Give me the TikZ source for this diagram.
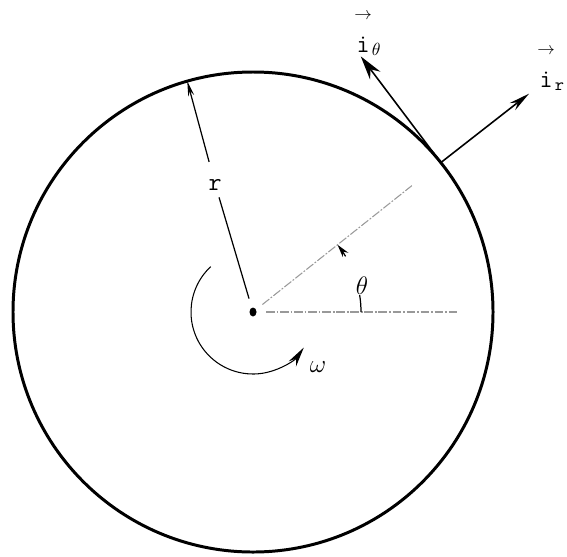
\documentclass[tikz,border=0pt]{standalone}
\usepackage{amsmath}
\usetikzlibrary{arrows.meta,calc,positioning}
\newcommand{\unitvec}[1]{{\overset{\raisebox{1.1ex}{$\scriptstyle\rightarrow$}}{\mathtt{i}}}_{#1}}

\begin{document}
\begin{tikzpicture}[
    x=0.02cm, y=0.02cm,
    rim/.style={line width=1.7pt},
    radial/.style={line width=0.7pt},
    refline/.style={gray!80, line width=0.6pt, dash pattern=on 5pt off 1pt on 1pt off 1pt},
    vecarrow/.style={line width=0.9pt, -{Stealth[length=0.42cm,width=0.18cm]}},
    lbl/.style={inner sep=0pt, font=\Large}
  ]
  \useasboundingbox (0,0) rectangle (567,556);
  \coordinate (ctr) at (253,244);

  % wheel
  \draw[rim] (ctr) circle[radius=240];
  \fill (ctr) ellipse[x radius=3.5, y radius=4.5];

  % radius
  \coordinate (rtip) at ($(ctr)+(105.9:240)$);
  \node[lbl, inner sep=0.14cm] (rlab) at ($(ctr)+(106.5:133)$) {\texttt{r}};
  \draw[radial, shorten <=0.28cm] (ctr) -- (rlab);
  \draw[radial, shorten <=0.2cm, -{Stealth[length=0.3cm,width=0.12cm]}] (rlab) -- (rtip);

  % angle theta
  \coordinate (hend) at ($(ctr)+(0:204)$);
  \coordinate (aend) at ($(ctr)+(38.5:203)$);
  \draw[refline, shorten <=0.26cm] (ctr) -- (hend);
  \draw[refline, shorten <=0.24cm] (ctr) -- (aend);
  \draw[radial] ($(ctr)+(0:108)$) arc[start angle=0, end angle=9, radius=108];
  \draw[radial, -{Stealth[length=0.26cm,width=0.14cm]}] ($(ctr)+(31:108)$) arc[start angle=31, end angle=38.5, radius=108];
  \node[lbl] (thlab) at ($(ctr)+(13.5:112)$) {$\theta$};

  % rotation
  \draw[radial, line width=0.6pt, -{Stealth[length=0.4cm,width=0.18cm]}] ($(ctr)+(133:62)$) arc[start angle=133, end angle=325, radius=62];
  \node[lbl] (omlab) at ($(ctr)+(-40:85)$) {$\omega$};

  % unit vectors
  \coordinate (pt) at ($(ctr)+(38.5:240)$);
  \coordinate (irtip) at ($(pt)+(38:112)$);
  \coordinate (ithtip) at ($(pt)+(127:133)$);
  \draw[vecarrow] (pt) -- (irtip);
  \draw[vecarrow, -{Stealth[length=0.48cm,width=0.26cm]}] (pt) -- (ithtip);
  \node[lbl, anchor=base west] (ithlab) at (354,504) {$\unitvec{\theta}$};
  \node[lbl, anchor=base west] (irlab) at (537,469) {$\unitvec{\mathtt{r}}$};
\end{tikzpicture}
\end{document}
